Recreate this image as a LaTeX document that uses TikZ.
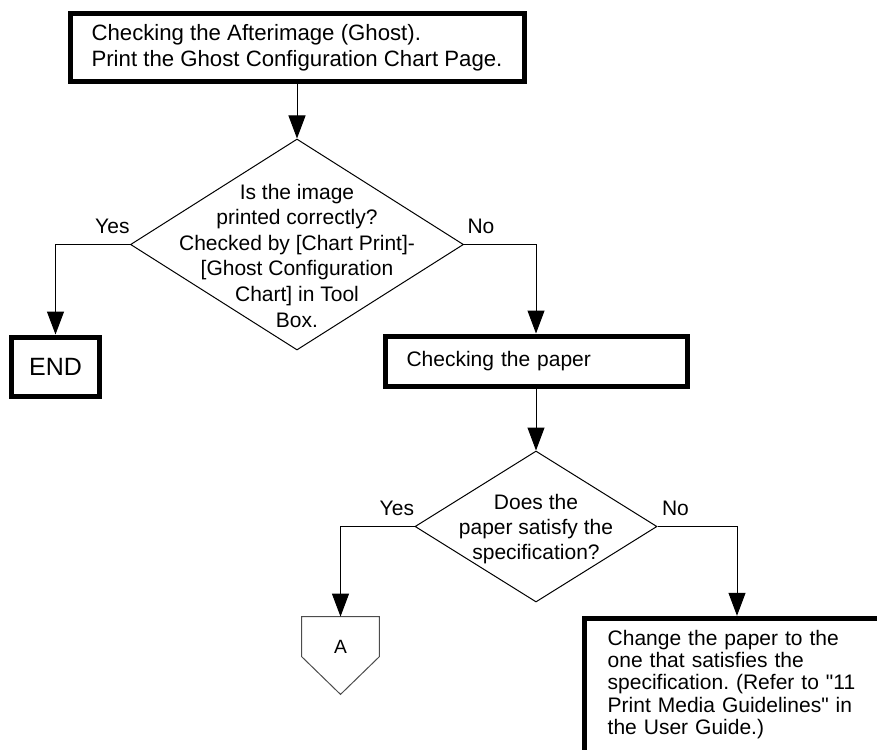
\documentclass[tikz,border=0pt]{standalone}
\usepackage{fontspec}
\setmainfont{Liberation Sans}[Ligatures=TeXOff]
\usetikzlibrary{arrows.meta,positioning,shapes.geometric}
\frenchspacing

\begin{document}
\begin{tikzpicture}[
  x=0.5pt, y=-0.5pt,
  font=\fontsize{10.5}{12.8}\selectfont,
  >={Triangle[length=11.5pt, width=8.5pt]},
  stepbox/.style={rectangle, draw, line width=2.5pt, align=left, inner ysep=0pt},
  decision/.style={diamond, draw, line width=0.5pt, inner sep=0pt},
  dtext/.style={align=center, inner sep=0pt},
  lbl/.style={inner sep=0pt},
  flow/.style={draw, line width=0.5pt, ->},
]
  \useasboundingbox (0,0) rectangle (877,749);
  \clip (0,0) rectangle (877,749);

  \node[stepbox, minimum width=227pt, minimum height=34pt, font=\fontsize{11.1}{13}\selectfont] (ghost) at (297,47.5) {Checking the Afterimage (Ghost).\\Print the Ghost Configuration Chart Page.};
  \node[decision, minimum width=166.5pt, minimum height=105.5pt] (chkimg) at (297,244.5) {};
  \node[dtext] (chkimgtxt) at (297,255.5) {Is the image\\printed correctly?\\Checked by [Chart Print]-\\{[}Ghost Configuration\\Chart] in Tool\\Box.};
  \node[stepbox, align=center, minimum width=43.8pt, minimum height=29.5pt, font=\fontsize{12.5}{14}\selectfont] (finish) at (55.5,366.5) {END};
  \node[stepbox, text width=129.5pt, inner xsep=10.75pt, minimum height=25pt] (paper) at (536,361) {Checking the paper};
  \node[decision, minimum width=121pt, minimum height=75.5pt] (chkpaper) at (536,526.5) {};
  \node[dtext, font=\fontsize{10.5}{12.6}\selectfont] (chkpapertxt) at (536,529) {Does the\\paper satisfy the\\specification?};
  \node[minimum width=38.5pt, minimum height=38.5pt, inner sep=0pt] (conA) at (340.5,655.5) {};
  \node[lbl, font=\fontsize{9.6}{11}\selectfont] (conAtxt) at (340.5,647) {A};
  \node[stepbox, anchor=north, text width=129.3pt, inner xsep=11.5pt, inner ysep=5.8pt, text depth=60pt, font=\fontsize{10.5}{11.2}\selectfont] (change) at (737,615.8) {Change the paper to the\\one that satisfies the\\specification. (Refer to "11\\Print Media Guidelines" in\\the User Guide.)};

  % off-page connector
  \draw[line width=0.5pt, black!70] (conA.north west) -- (conA.north east) -- ([yshift=-20pt]conA.north east) -- (conA.south) -- ([yshift=-20pt]conA.north west) -- cycle;

  \draw[flow] (ghost) -- (chkimg);
  \draw[flow] (chkimg.west) node[lbl, above left=5.3pt and 0pt] (yes1) {Yes} -| (finish);
  \draw[flow] (chkimg.east) node[lbl, above right=5.3pt and 1.5pt] (no1) {No} -| (paper);
  \draw[flow] (paper) -- (chkpaper);
  \draw[flow] (chkpaper.west) node[lbl, above left=5pt and 0pt] (yes2) {Yes} -| (conA);
  \draw[flow] (chkpaper.east) node[lbl, above right=5pt and 2pt] (no2) {No} -| (change);
\end{tikzpicture}
\end{document}
